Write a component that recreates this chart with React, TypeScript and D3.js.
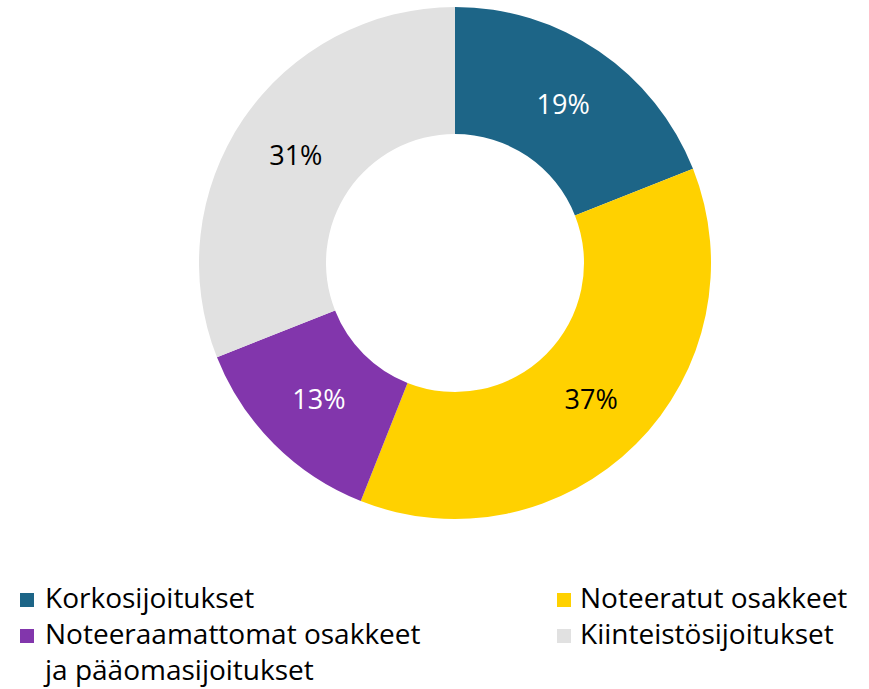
import React from "react";
import * as d3 from "d3";

const categories = ["Korkosijoitukset", "Noteeratut osakkeet", "Noteeraamattomat osakkeet ja pääomasijoitukset", "Kiinteistösijoitukset"];
const values = [19, 37, 13, 31];
const colors = ["#1D6587", "#FFD100", "#8236AC", "#E1E1E1"];
const labelColors = ["#FFFFFF", "#000000", "#FFFFFF", "#000000"];
const legendLines = [["Korkosijoitukset"], ["Noteeratut osakkeet"], ["Noteeraamattomat osakkeet", "ja pääomasijoitukset"], ["Kiinteistösijoitukset"]];

const W = 869;
const H = 689;
const cx = 455;
const cy = 263;
const R = 256;
const r = 129;
const FONT = "'Open Sans', sans-serif";

export default function App() {
  const pie = d3.pie<number>().sort(null).value((d) => d);
  const arcs = pie(values);
  const arcGen = d3.arc<d3.PieArcDatum<number>>().innerRadius(r).outerRadius(R);

  const legendPos = [
    { x: 20, y: 608, tx: 45 },
    { x: 557, y: 608, tx: 580 },
    { x: 20, y: 644, tx: 45 },
    { x: 557, y: 644, tx: 580 },
  ];

  return (
    <svg width={W} height={H} style={{ position: "absolute", left: 0, top: 0 }}>
      <g transform={`translate(${cx},${cy})`}>
        {arcs.map((a, i) => (
          <path key={i} d={arcGen(a) || ""} fill={colors[i]} />
        ))}
        {arcs.map((a, i) => {
          const [x, y] = arcGen.centroid(a);
          return (
            <text key={"l" + i} x={x} y={y + 10} textAnchor="middle"
              fontFamily={FONT} fontSize={27} fill={labelColors[i]}>
              {values[i]}%
            </text>
          );
        })}
      </g>
      {categories.map((c, i) => {
        const p = legendPos[i];
        return (
          <g key={"lg" + i}>
            <rect x={p.x} y={p.y - 15} width={14} height={14} fill={colors[i]} />
            {legendLines[i].map((line, j) => (
              <text key={j} x={p.tx} y={p.y + j * 36} fontFamily={FONT} fontSize={28} fill="#000">
                {line}
              </text>
            ))}
          </g>
        );
      })}
    </svg>
  );
}
